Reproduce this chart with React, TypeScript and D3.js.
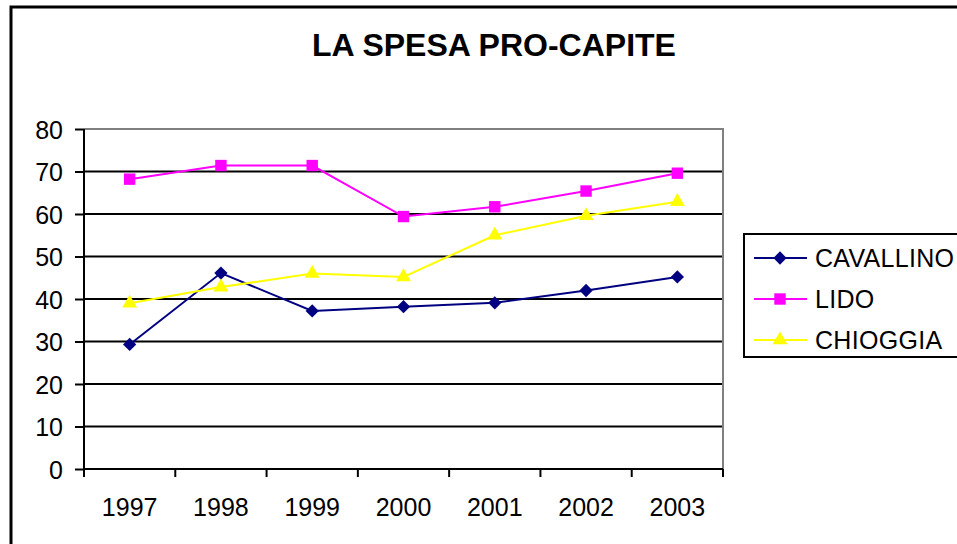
import { useEffect, useRef } from 'react';
import * as d3 from 'd3';

const years = ['1997', '1998', '1999', '2000', '2001', '2002', '2003'];
const cavallino = [29.3, 46.1, 37.2, 38.2, 39.1, 42, 45.2];
const lido = [68.2, 71.4, 71.4, 59.4, 61.7, 65.4, 69.6];
const chioggia = [39, 42.8, 46, 45.2, 55, 59.6, 62.9];
const yTicks = [0, 10, 20, 30, 40, 50, 60, 70, 80];

// diamond = square rotated 45deg, like the Excel marker
const seriesList = [
  { name: 'CAVALLINO', values: cavallino, color: '#000080', symbol: d3.symbolSquare, size: 88, rotate: 45 },
  { name: 'LIDO', values: lido, color: '#FF00FF', symbol: d3.symbolSquare, size: 130, rotate: 0 },
  { name: 'CHIOGGIA', values: chioggia, color: '#FFFF00', symbol: d3.symbolTriangle, size: 95, rotate: 0 },
];

const App = () => {
  const ref = useRef<SVGSVGElement | null>(null);

  useEffect(() => {
    if (!ref.current) return;
    const svg = d3.select(ref.current);
    svg.selectAll('*').remove();
    const font = '"Liberation Sans", Arial, sans-serif';

    const left = 84, right = 723, top = 129, bottom = 469;

    const x = d3.scaleBand<string>().domain(years).range([left, right]).padding(0);
    const y = d3.scaleLinear().domain([0, 80]).range([bottom, top]);
    const cx = (d: string) => x(d)! + x.bandwidth() / 2;

    // outer frame
    svg.append('rect')
      .attr('x', 11).attr('y', 7)
      .attr('width', 1000).attr('height', 600)
      .attr('fill', 'white')
      .attr('stroke', '#000').attr('stroke-width', 3);

    // title
    svg.append('text')
      .attr('x', 494).attr('y', 56)
      .attr('text-anchor', 'middle')
      .attr('font-family', font)
      .attr('font-weight', 'bold')
      .attr('font-size', 32)
      .text('LA SPESA PRO-CAPITE');

    // gridlines
    svg.append('g')
      .selectAll('line')
      .data(yTicks.filter(t => t > 0 && t < 80))
      .enter().append('line')
      .attr('x1', left).attr('x2', right)
      .attr('y1', d => y(d)).attr('y2', d => y(d))
      .attr('stroke', '#000').attr('stroke-width', 2);

    // plot area border (top/right gray)
    svg.append('path')
      .attr('d', `M${left},${top}H${right}V${bottom}`)
      .attr('fill', 'none')
      .attr('stroke', '#808080').attr('stroke-width', 2);

    // y axis
    const yAxis = svg.append('g')
      .attr('transform', `translate(${left},0)`)
      .call(d3.axisLeft(y).tickValues(yTicks).tickSize(9).tickPadding(12));
    yAxis.selectAll('path, line').attr('stroke', '#000').attr('stroke-width', 2);
    yAxis.select('.domain').attr('d', `M0,${top}V${bottom}`);
    yAxis.selectAll('text')
      .attr('font-family', font).attr('font-size', 25).attr('fill', '#000')
      .attr('dy', '0.36em');

    // x axis
    const xAxis = svg.append('g').attr('transform', `translate(0,${bottom})`);
    xAxis.append('line')
      .attr('x1', left).attr('x2', right)
      .attr('stroke', '#000').attr('stroke-width', 2);
    const bounds = years.map(d => x(d)!).concat([right]);
    xAxis.selectAll('line.tick')
      .data(bounds)
      .enter().append('line')
      .attr('class', 'tick')
      .attr('x1', d => d).attr('x2', d => d)
      .attr('y1', 0).attr('y2', 8)
      .attr('stroke', '#000').attr('stroke-width', 2);
    xAxis.selectAll('text')
      .data(years)
      .enter().append('text')
      .attr('x', d => cx(d))
      .attr('y', 47)
      .attr('text-anchor', 'middle')
      .attr('font-family', font).attr('font-size', 25)
      .text(d => d);

    // series
    const line = d3.line<number>()
      .x((_, i) => cx(years[i]))
      .y(d => y(d));

    seriesList.forEach(s => {
      svg.append('path')
        .datum(s.values)
        .attr('d', line)
        .attr('fill', 'none')
        .attr('stroke', s.color).attr('stroke-width', 2);
      svg.append('g')
        .selectAll('path')
        .data(s.values)
        .enter().append('path')
        .attr('d', d3.symbol().type(s.symbol).size(s.size)())
        .attr('transform', (d, i) => `translate(${cx(years[i])},${y(d)}) rotate(${s.rotate})`)
        .attr('fill', s.color);
    });

    // legend
    const lg = svg.append('g');
    lg.append('rect')
      .attr('x', 744).attr('y', 234)
      .attr('width', 240).attr('height', 123)
      .attr('fill', 'white')
      .attr('stroke', '#000').attr('stroke-width', 2);
    const rowY = [258, 299, 340];
    seriesList.forEach((s, i) => {
      const ry = rowY[i];
      lg.append('line')
        .attr('x1', 754).attr('x2', 807)
        .attr('y1', ry).attr('y2', ry)
        .attr('stroke', s.color).attr('stroke-width', 2);
      lg.append('path')
        .attr('d', d3.symbol().type(s.symbol).size(s.size)())
        .attr('transform', `translate(780,${ry}) rotate(${s.rotate})`)
        .attr('fill', s.color);
      lg.append('text')
        .attr('x', 815).attr('y', ry)
        .attr('dy', '0.36em')
        .attr('font-family', font).attr('font-size', 25)
        .attr('letter-spacing', 0.3)
        .text(s.name);
    });
  }, []);

  return (
    <svg
      ref={ref}
      width={957}
      height={544}
      style={{ position: 'absolute', left: 0, top: 0, background: 'white' }}
    />
  );
};

export default App;
